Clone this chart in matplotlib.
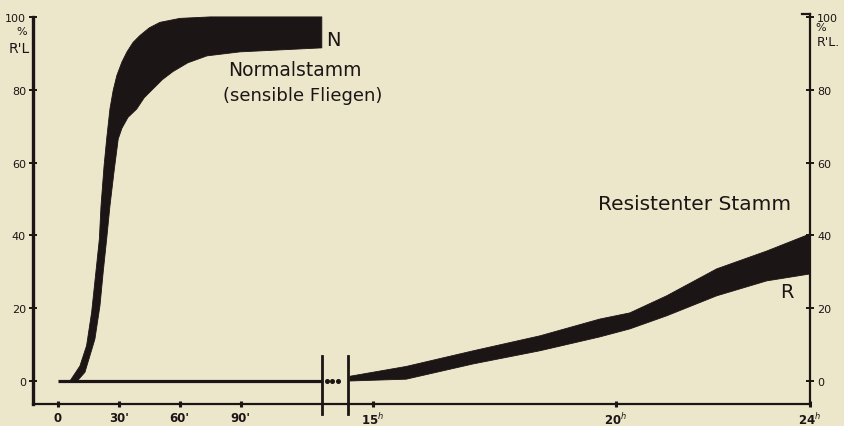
import matplotlib.pyplot as plt

# Normalstamm: time in minutes, % R'L. (upper and lower edge of the band)
n_upper_min = [5.9, 10.8, 14.1, 16.6, 18.7, 20.4, 21.2, 22.7, 24.0, 25.6, 27.2, 29.0, 31.5, 34.0,
               37.0, 40.4, 45.0, 50.2, 60.1, 75, 130]
n_upper_pct = [0, 4.1, 9.7, 18.9, 30, 39, 48, 59, 66.5, 74.7, 79.8, 83.9, 87.6, 90.4,
               93.0, 94.9, 97.0, 98.5, 99.6, 100, 100]
n_lower_min = [9.5, 13.3, 18.2, 20.7, 22.3, 24.0, 25.6, 27.6, 29.7, 31.5, 34.5, 38.8, 42.5,
               46.8, 51.5, 56.7, 64.0, 73.4, 89.7, 130]
n_lower_pct = [0, 2.4, 11.5, 20.7, 30, 39, 48, 57.4, 66.5, 69.4, 72.4, 74.7, 77.8,
               80.2, 82.8, 85.0, 87.4, 89.3, 90.4, 91.5]

# Resistenter Stamm: time in hours
r_hours = [14.53, 15.69, 17.07, 18.44, 19.67, 20.29, 21.05, 22.08, 23.11, 24.0]
r_upper_pct = [1.3, 4.0, 8.3, 12.4, 17.0, 18.7, 23.4, 30.8, 35.7, 40.4]
r_lower_pct = [0, 0.5, 4.7, 8.3, 12.1, 14.3, 17.9, 23.4, 27.5, 29.4]

baseline_min = [0, 130]
min_ticks = [0, 30, 60, 90]
min_labels = ["0", "30'", "60'", "90'"]
hour_ticks = [15, 20, 24]
hour_labels = ["15$^h$", "20$^h$", "24$^h$"]
pct_ticks = [0, 20, 40, 60, 80, 100]
pct_labels = ["0", "20", "40", "60", "80", "100"]

W, H = 845, 427
bg = '#ece6cb'
ink = '#1b1515'
plt.rcParams['font.family'] = ['DejaVu Sans']

fig = plt.figure(figsize=(W / 100, H / 100), dpi=100, facecolor=bg)
ax1 = fig.add_axes([33 / W, 1 - 405 / H, (348 - 33) / W, (405 - 15) / H])
ax2 = fig.add_axes([348 / W, 1 - 405 / H, (810 - 348) / W, (405 - 15) / H])

ylo, yhi = -6.32, 100.8
for ax in (ax1, ax2):
    ax.set_facecolor('none')
    ax.set_ylim(ylo, yhi)
    ax.spines['top'].set_visible(False)
    ax.spines['bottom'].set_linewidth(1.6)
    ax.spines['bottom'].set_color(ink)
    ax.set_yticks(pct_ticks)
    ax.set_yticklabels(pct_labels)
    ax.tick_params(axis='y', direction='inout', length=6, width=1.4, colors=ink,
                   labelsize=8, pad=2)
    ax.tick_params(axis='x', direction='inout', length=4, width=2.2, colors=ink,
                   labelsize=8.5, pad=3)

ax1.set_xlim(-12.3, 142.9)
ax2.set_xlim(14.49, 24.0)

ax1.spines['right'].set_visible(False)
ax1.spines['left'].set_linewidth(2.4)
ax1.spines['left'].set_color(ink)
ax1.spines['left'].set_bounds(ylo, 100)
ax2.spines['left'].set_visible(False)
ax2.spines['right'].set_linewidth(1.6)
ax2.spines['right'].set_color(ink)
ax2.yaxis.tick_right()

ax1.set_xticks(min_ticks)
ax1.set_xticklabels(min_labels, fontweight='bold')
ax2.set_xticks(hour_ticks)
ax2.set_xticklabels(hour_labels, fontweight='bold')

# hook at the top of the right axis
ax2.plot([23.84, 24.0], [yhi, yhi], color=ink, lw=1.6, clip_on=False)

# normal strain band
ax1.plot(baseline_min, [0, 0], color=ink, lw=2.3, solid_capstyle='butt')
ax1.fill(n_upper_min + n_lower_min[::-1], n_upper_pct + n_lower_pct[::-1],
         color=ink, lw=0.6, ec=ink, joinstyle='round')

# resistant strain band
ax2.fill(r_hours + r_hours[::-1], r_upper_pct + r_lower_pct[::-1],
         color=ink, lw=0.6, ec=ink, joinstyle='round')

# axis break
ax1.plot([130, 130], [6.9, -9.1], color=ink, lw=2, clip_on=False)
ax2.plot([14.49, 14.49], [6.9, -9.1], color=ink, lw=2, clip_on=False)
ax1.plot([132.5, 135.2, 138], [0, 0, 0], 'o', color=ink, ms=2.6, clip_on=False)

def ftext(x, y, s, **kw):
    fig.text(x / W, 1 - y / H, s, color=ink, va='center', **kw)

ftext(333, 40, "N", fontsize=14, ha='center')
ftext(228, 70, "Normalstamm", fontsize=13.5, ha='left')
ftext(223, 96, "(sensible Fliegen)", fontsize=13, ha='left')
ftext(598, 205, "Resistenter Stamm", fontsize=14.5, ha='left')
ftext(787, 293, "R", fontsize=14, ha='center')

ftext(22, 32, "%", fontsize=8, ha='center')
ftext(19, 49, "R'L", fontsize=10, ha='center')
ftext(821, 28, "%", fontsize=8, ha='center')
ftext(828, 42, "R'L.", fontsize=9, ha='center')

fig.savefig('out.png', dpi=100, facecolor=bg)
